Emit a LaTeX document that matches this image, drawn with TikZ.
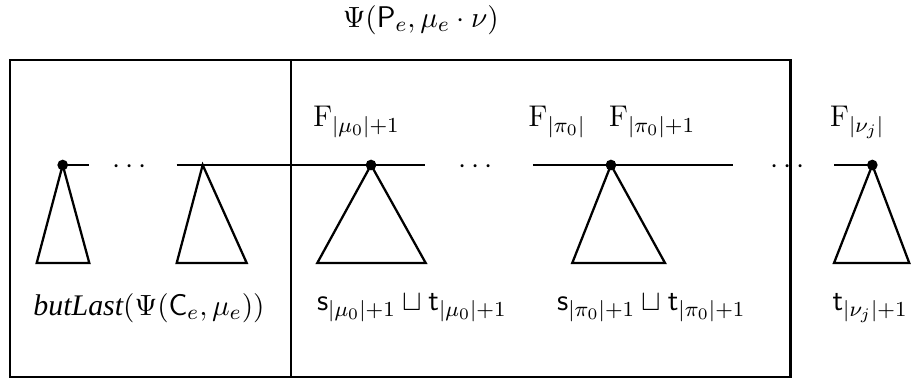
\documentclass[tikz,border=0pt]{standalone}
\usepackage{amsmath,amssymb}
\usepackage{fontspec}
\usepackage{tikz}
\usetikzlibrary{positioning,calc}
\newfontfamily\opname{Liberation Serif}
\newcommand{\midsize}{\fontsize{11.2}{13.5}\selectfont}
\tikzset{
  frame/.style={draw=black,line width=.9pt},
  spine/.style={draw=black,line width=.8pt},
  subtree/.style={draw=black,line width=.85pt,line join=miter},
  rootpt/.style={circle,fill=black,inner sep=0pt,minimum size=4pt},
  flabel/.style={font=\midsize,inner sep=1pt},
  tlabel/.style={font=\midsize,inner sep=1pt},
  gap/.style={font=\midsize,inner sep=0pt},
}

\begin{document}
\begin{tikzpicture}[x=1cm,y=1cm]
  \useasboundingbox (0,0) rectangle (12,5.026);
  % ---------------- title ----------------
  \node[tlabel] (title) at (5.536,4.763) {$\Psi(\mathsf{P}_e,\mu_e\cdot\nu)$};
  % ---------------- frames ----------------
  \draw[frame] (0.132,0.066) rectangle (10.40,4.237);
  \draw[frame] (3.829,0.066) -- (3.829,4.237);
  % ---------------- roots ----------------
  \coordinate (r1) at (0.825,2.855);
  \coordinate (r2) at (2.667,2.855);
  \coordinate (r3) at (4.882,2.855);
  \coordinate (r4) at (8.039,2.855);
  \coordinate (r5) at (11.478,2.855);
  % ---------------- spine ends ----------------
  \coordinate (e1) at (1.175,2.855);
  \coordinate (s2) at (2.325,2.855);
  \coordinate (e2) at (5.592,2.855);
  \coordinate (s3) at (7.013,2.855);
  \coordinate (e3) at (9.645,2.855);
  \coordinate (s4) at (10.974,2.855);
  % ---------------- spines ----------------
  \draw[spine] (r1) -- (e1);
  \draw[spine] (s2) -- (r2) -- (r3) -- (e2);
  \draw[spine] (s3) -- (r4) -- (e3);
  \draw[spine] (s4) -- (r5);
  \node[gap] (gap1) at (1.737,2.83) {$\cdots$};
  \node[gap] (gap2) at (6.29,2.83)  {$\cdots$};
  \node[gap] (gap3) at (10.40,2.83) {$\cdots$};
  % ---------------- subtrees ----------------
  \foreach \r/\a/\b in {r1/-0.342/0.350, r2/-0.342/0.579, r3/-0.707/0.719,
                        r4/-0.509/0.711, r5/-0.504/0.486}{
    \draw[subtree] (\r) -- ($(\r)+(\a,-1.289)$) -- ($(\r)+(\b,-1.289)$) -- cycle;}
  \foreach \r in {r1,r3,r4,r5}{
    \node[rootpt] at (\r) {};}
  % ---------------- F labels ----------------
  \node[flabel] (fmu)   at (4.69,3.42)  {$\mathrm{F}_{|\mu_0|+1}$};
  \node[flabel] (fpi)   at (7.33,3.42)  {$\mathrm{F}_{|\pi_0|}$};
  \node[flabel] (fpi1)  at (8.58,3.42)  {$\mathrm{F}_{|\pi_0|+1}$};
  \node[flabel] (fnu)   at (11.28,3.42) {$\mathrm{F}_{|\nu_j|}$};
  % ---------------- tree labels ----------------
  \node[tlabel] (blast) at (1.96,0.974)  {{\opname\itshape butLast}$(\Psi(\mathsf{C}_e,\mu_e))$};
  \node[tlabel] (smu)   at (5.42,0.974)  {$\mathsf{s}_{|\mu_0|+1}\sqcup\mathsf{t}_{|\mu_0|+1}$};
  \node[tlabel] (spi)   at (8.57,0.974)  {$\mathsf{s}_{|\pi_0|+1}\sqcup\mathsf{t}_{|\pi_0|+1}$};
  \node[tlabel] (tnu)   at (11.45,0.974) {$\mathsf{t}_{|\nu_j|+1}$};
\end{tikzpicture}
\end{document}
